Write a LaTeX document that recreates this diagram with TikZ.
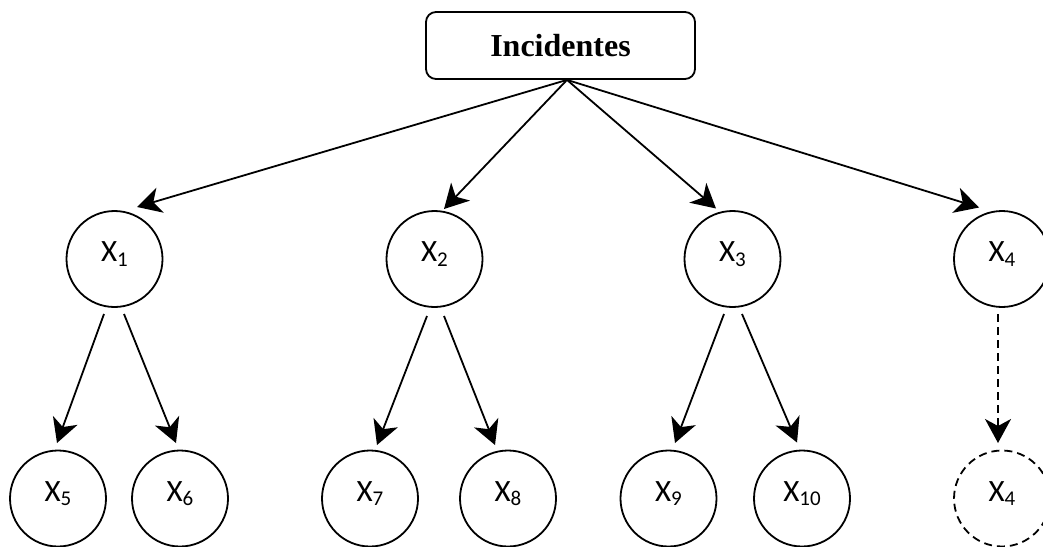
\documentclass[tikz,border=0pt]{standalone}
\usepackage{fontspec}
\setmainfont[Numbers=Lining]{Carlito}
\newfontfamily\serifbold{Liberation Serif}
\usetikzlibrary{arrows.meta,calc}
\newcommand{\xlab}[2]{#1{\fontsize{21}{21}\selectfont\raisebox{-4.5pt}{#2}}}
\tikzset{
  vnode/.style={circle,draw,line width=1.8pt,minimum size=96pt,inner sep=0pt,
    font=\fontsize{31}{31}\selectfont,text height=19.5pt,text depth=14pt},
  dnode/.style={vnode,dash pattern=on 8pt off 5pt},
  topbox/.style={draw,line width=1.8pt,rounded corners=10pt,minimum width=269pt,
    minimum height=67pt,inner sep=0pt,font=\serifbold\bfseries\fontsize{32}{32}\selectfont},
  arr/.style={line width=1.8pt,-{Stealth[length=24pt,width=26pt,inset=7pt]}},
  darr/.style={arr,dash pattern=on 8pt off 5pt}
}
\begin{document}
\begin{tikzpicture}[x=1pt,y=-1pt]
\useasboundingbox (0,0) rectangle (1043,546);
\node[topbox] (inc) at (560.5,45.5) {Incidentes};
\coordinate (o) at ($(inc.south)+(6.5,0)$);
\node[vnode] (x1) at (114.5,259) {\xlab{X}{1}};
\node[vnode] (x2) at (434.5,259) {\xlab{X}{2}};
\node[vnode] (x3) at (732.5,259) {\xlab{X}{3}};
\node[vnode] (x4) at (1002,259) {\xlab{X}{4}};
\node[vnode] (x5) at (58,498.5) {\xlab{X}{5}};
\node[vnode] (x6) at (180,498.5) {\xlab{X}{6}};
\node[vnode] (x7) at (370,498.5) {\xlab{X}{7}};
\node[vnode] (x8) at (508,498.5) {\xlab{X}{8}};
\node[vnode] (x9) at (668.5,498.5) {\xlab{X}{9}};
\node[vnode] (x10) at (802,498.5) {\xlab{X}{10}};
\node[dnode] (x4b) at (1002,498.5) {\xlab{X}{4}};
% top arrows
\draw[arr] (o) -- ($(x1.center)+(22.5,-52)$);
\draw[arr] (o) -- ($(x2.center)+(9.5,-50)$);
\draw[arr] (o) -- ($(x3.center)+(-16.5,-50.5)$);
\draw[arr] (o) -- ($(x4.center)+(-23,-51.5)$);
% child arrows
\draw[arr] ($(x1.center)+(-10.5,55)$) -- ($(x5.center)+(-1,-55.5)$);
\draw[arr] ($(x1.center)+(9.5,55)$) -- ($(x6.center)+(-4,-55.5)$);
\draw[arr] ($(x2.center)+(-7.5,57)$) -- ($(x7.center)+(7,-53.5)$);
\draw[arr] ($(x2.center)+(9.5,57)$) -- ($(x8.center)+(-13,-53.5)$);
\draw[arr] ($(x3.center)+(-8.5,55)$) -- ($(x9.center)+(6.5,-55.5)$);
\draw[arr] ($(x3.center)+(9.5,55)$) -- ($(x10.center)+(-5,-56)$);
\draw[darr] ($(x4.center)+(-4,55)$) -- ($(x4b.center)+(-4,-55.5)$);
\end{tikzpicture}
\end{document}
